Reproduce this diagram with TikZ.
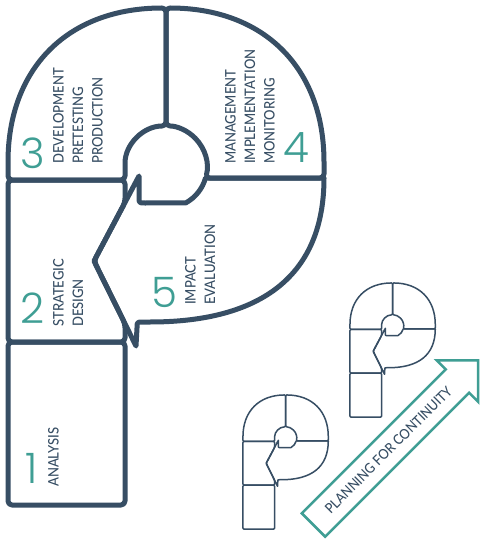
\documentclass[tikz,border=0pt]{standalone}
\usepackage{tikz}
\usepackage{fontspec}
\IfFontExistsTF{Lato Medium}{\newfontfamily\labfont{Lato Medium}[FakeStretch=0.9]}{\newfontfamily\labfont{Lato}[FakeStretch=0.9]}
\IfFontExistsTF{Poppins Light}{\newfontfamily\numfont{Poppins Light}}{\newfontfamily\numfont{Poppins}}
\definecolor{pdark}{HTML}{374E64}
\definecolor{pteal}{HTML}{3F9E94}
\newcommand{\Pcells}[1]{%
  \draw[#1] (8,342) rectangle (125,505);
  \draw[#1] (8,180) -- (125,180) -- (125,202.4) -- (94,261) -- (125,323.7) -- (125,342) -- (8,342) -- cycle;
  \draw[#1] (8,180) -- (8,166) .. controls (8,68) and (68,8) .. (166,8) -- (166,126)
     arc[start angle=270,end angle=180,radius=41] -- (125,180) -- cycle;
  \draw[#1] (166,8) .. controls (264,8) and (324,68) .. (324,166) -- (324,178) -- (205.5,178)
     arc[start angle=15.6,end angle=-90,radius=41] -- cycle;
  \draw[#1, sharp corners] (324,178) -- (205.5,178) arc[start angle=15.6,end angle=61.4,radius=41]
     -- (145,203) .. controls (139,203) .. (139,197) -- (139,176) -- (94,261) -- (136,346)
     -- (137,328) .. controls (137,322) .. (143,322) -- (150,322)
     .. controls (262,322) and (324,275) .. (324,178);
}
\begin{document}
\begin{tikzpicture}[x=1pt,y=-1pt, line join=round, line cap=round,
  bigline/.style={draw=pdark, line width=5pt, rounded corners=4pt},
  smallline/.style={draw=pdark, line width=1.5pt, rounded corners=1pt},
  lab/.style={font=\labfont\fontsize{14.5}{19.5}\selectfont, text=pdark, rotate=90, align=left, inner sep=0pt, anchor=north west},
  num/.style={font=\numfont\fontsize{42}{42}\selectfont, text=pteal, inner sep=0pt, anchor=base west},
  banner/.style={draw=pteal, line width=2.5pt, line join=miter, fill=white}]
\fill[white] (0,0) rectangle (480,540);
\useasboundingbox (0,0) rectangle (480,540);
% big P
\Pcells{bigline}
\node[lab] (l3) at (53,164) {DEVELOPMENT\\PRETESTING\\PRODUCTION};
\node[lab] (l4) at (225,164) {MANAGEMENT\\IMPLEMENTATION\\MONITORING};
\node[lab] (l2) at (53,327) {STRATEGIC\\DESIGN};
\node[lab] (l5) at (185,305) {IMPACT\\EVALUATION};
\node[lab] (l1) at (48,487) {ANALYSIS};
\node[num] (n3) at (20,168) {3};
\node[num] (n4) at (283,163) {4};
\node[num] (n2) at (20,323) {2};
\node[num] (n5) at (151,307) {5};
\node[num] (n1) at (25,483) {1};
% small Ps
\begin{scope}[shift={(240.8,392.8)}, scale=0.27]
  \Pcells{smallline}
\end{scope}
\begin{scope}[shift={(347.8,280.8)}, scale=0.27]
  \Pcells{smallline}
\end{scope}
% banner arrow
\begin{scope}[shift={(313.5,525)}, rotate=45]
  \draw[banner] (0,-16.5) -- (203.6,-16.5) -- (203.6,-29.3) -- (232.9,0) -- (203.6,29.3) -- (203.6,16.5) -- (0,16.5) -- cycle;
  \node[font=\labfont\fontsize{14}{16}\selectfont, text=pdark, rotate=45, inner sep=0pt] (plan) at (106,0) {PLANNING FOR CONTINUITY};
\end{scope}
\end{tikzpicture}
\end{document}
